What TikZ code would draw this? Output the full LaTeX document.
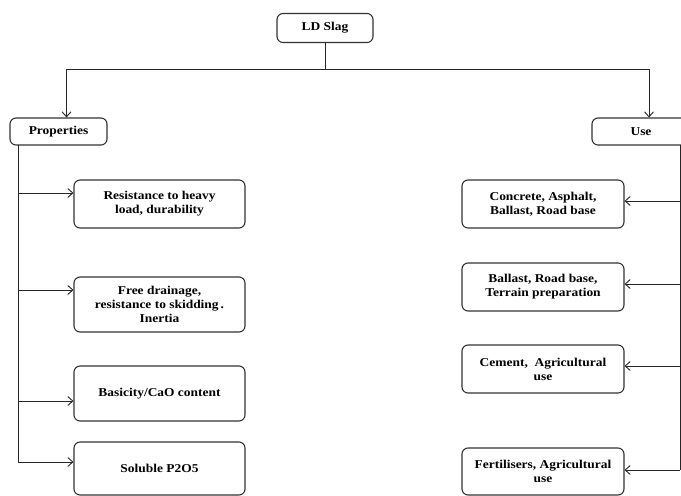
\documentclass[tikz,border=0pt]{standalone}
\usepackage{fontspec}
\setmainfont{Liberation Serif}[FakeStretch=1.12]
\usetikzlibrary{arrows.meta}
\tikzset{
  box/.style={draw=black!80, line width=1.1pt, rounded corners=6pt, align=center,
    font=\bfseries\fontsize{12}{14}\selectfont, inner sep=0pt},
  link/.style={draw=black!85, line width=1pt},
  arr/.style={link, -{Straight Barb[length=5pt,width=9pt,line width=0.9pt]}},
}
\begin{document}
\begin{tikzpicture}[x=1pt,y=-1pt]
\useasboundingbox (0,0) rectangle (681,496);
% top
\node[box, minimum width=96pt, minimum height=29pt] (ld) at (325,28) {LD Slag};
\node[box, minimum width=97pt, minimum height=27pt] (prop) at (58.5,131.5) {Properties};
\node[box, minimum width=98pt, minimum height=27pt] (use) at (641,131.5) {Use};
% left boxes
\node[box, minimum width=171pt, minimum height=48pt] (L1) at (159.5,204) {Resistance to heavy\\load, durability};
\node[box, minimum width=171pt, minimum height=55pt] (L2) at (159.5,304.5) {Free drainage,\\resistance to skidding\,.\\Inertia};
\node[box, minimum width=171pt, minimum height=55pt] (L3) at (159.5,393.5) {Basicity/CaO content};
\node[box, minimum width=171pt, minimum height=53pt] (L4) at (159.5,468.5) {Soluble P2O5};
% right boxes
\node[box, minimum width=162pt, minimum height=48pt] (R1) at (543,204) {Concrete, Asphalt,\\Ballast, Road base};
\node[box, minimum width=162pt, minimum height=48pt] (R2) at (543,287) {Ballast, Road base,\\Terrain preparation};
\node[box, minimum width=162pt, minimum height=48pt] (R3) at (543,369) {Cement,\ \ Agricultural\\use};
\node[box, minimum width=162pt, minimum height=47pt] (R4) at (543,471.5) {Fertilisers, Agricultural\\use};
% top connectors
\coordinate (j) at (325,69);
\draw[link] (ld.south) -- (j);
\draw[arr] (j) -| ([xshift=8pt]prop.north);
\draw[arr] (j) -| ([xshift=8pt]use.north);
% left trunk
\coordinate (lt) at (18,145);
\coordinate (lb) at (18,462);
\draw[link] (lt) -- (lb);
\path ([yshift=11pt]L1.west) coordinate (a1)
      ([yshift=14.5pt]L2.west) coordinate (a2)
      ([yshift=-7.5pt]L3.west) coordinate (a3)
      ([yshift=6.5pt]L4.west) coordinate (a4);
\foreach \c in {a1,a2,a3,a4} \draw[arr] (\c -| lt) -- (\c);
% right trunk
\coordinate (rt) at (680,145);
\coordinate (rb) at (680,470);
\draw[link] (rt) -- (rb);
\path ([yshift=3pt]R1.east) coordinate (b1)
      ([yshift=3pt]R2.east) coordinate (b2)
      ([yshift=3pt]R3.east) coordinate (b3)
      ([yshift=1.5pt]R4.east) coordinate (b4);
\foreach \c in {b1,b2,b3,b4} \draw[arr] (\c -| rt) -- (\c);
\end{tikzpicture}
\end{document}
